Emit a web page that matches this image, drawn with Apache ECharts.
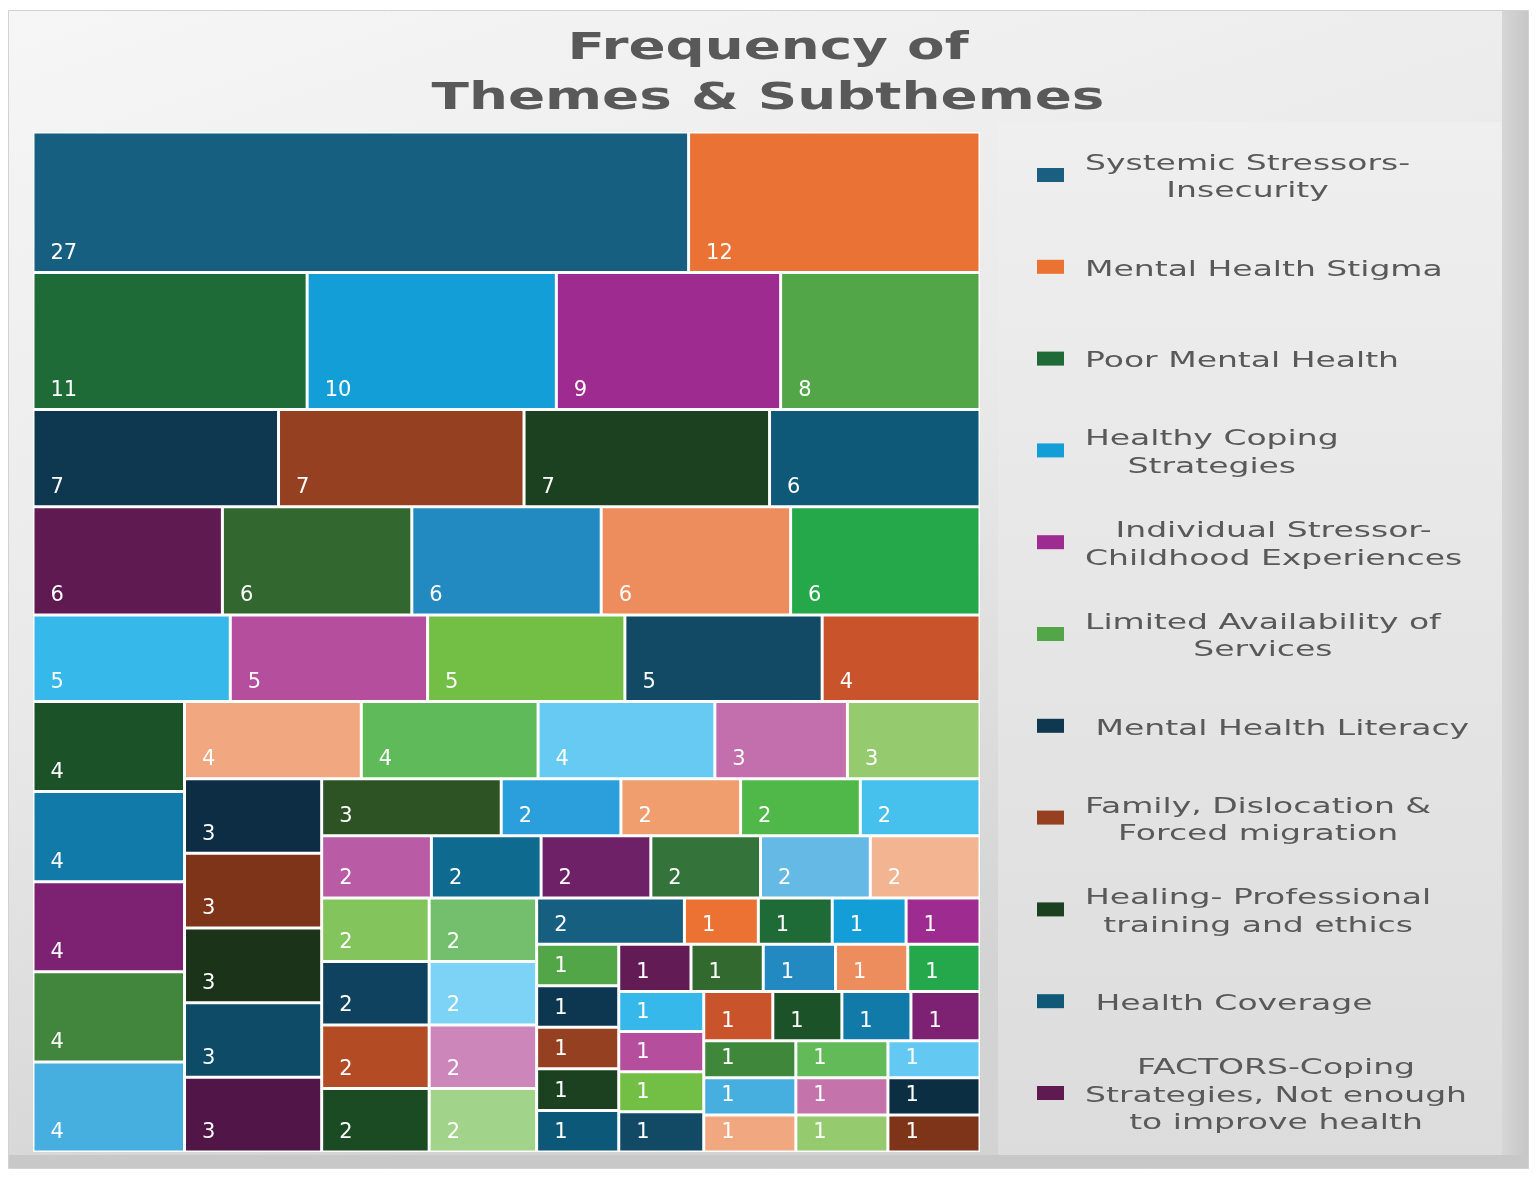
<!DOCTYPE html>
<html>
<head>
<meta charset="utf-8">
<script src="https://cdn.jsdelivr.net/npm/echarts@6/dist/echarts.min.js"></script>
<style>
html, body { margin: 0; padding: 0; background: #ffffff; }
#chart { width: 1536px; height: 1177px; }
</style>
</head>
<body>
<div id="chart"></div>
<script>
// ---------- text ----------
const chartTitle = 'Frequency of\nThemes & Subthemes';
const legendLabels = [
  'Systemic Stressors-\nInsecurity',
  'Mental Health Stigma',
  'Poor Mental Health',
  'Healthy Coping\nStrategies',
  'Individual Stressor-\nChildhood Experiences',
  'Limited Availability of\nServices',
  ' Mental Health Literacy',
  'Family, Dislocation &\nForced migration',
  'Healing- Professional\ntraining and ethics',
  ' Health Coverage',
  'FACTORS-Coping\nStrategies, Not enough\nto improve health'
];
const legendColors = ['#1a5e80', '#ea7233', '#1e6b37', '#139ed7', '#9e2b8f', '#52a647',
  '#0e3750', '#964021', '#1b4121', '#0f5878', '#5f1a52'];

// ---------- values (frequency counts) and cell colours, block by block ----------
const row1Values = [27, 12];
const row1Colors = ['#175f80', '#ea7234'];
const row2Values = [11, 10, 9, 8];
const row2Colors = ['#1e6b37', '#139ed7', '#9e2b8f', '#52a647'];
const row3Values = [7, 7, 7, 6];
const row3Colors = ['#0e3850', '#944021', '#1b4121', '#0e5878'];
const row4Values = [6, 6, 6, 6, 6];
const row4Colors = ['#5f1a52', '#32682f', '#2389c1', '#ed8d5d', '#25a84a'];
const row5Values = [5, 5, 5, 5, 4];
const row5Colors = ['#36b8eb', '#b44e9d', '#73be44', '#124a66', '#c9532a'];
const col1Values = [4, 4, 4, 4, 4];
const col1Colors = ['#1b5228', '#127aa8', '#7d2273', '#41863c', '#46afdf'];
const row6Values = [4, 4, 4, 3, 3];
const row6Colors = ['#f1a880', '#5fba59', '#67caf3', '#c46fad', '#96ca6f'];
const col2Values = [3, 3, 3, 3, 3];
const col2Colors = ['#0c2d43', '#7e3418', '#1a3319', '#0d4b66', '#511547'];
const row7Values = [3, 2, 2, 2, 2];
const row7Colors = ['#2d5224', '#2a9fdb', '#f19e6e', '#4fb848', '#46c1ee'];
const row8Values = [2, 2, 2, 2, 2, 2];
const row8Colors = ['#b95ca5', '#0f6a90', '#6e2166', '#34733a', '#64bae5', '#f3b491'];
const col3Values = [2, 2, 2, 2];
const col3Colors = ['#84c45d', '#0f425f', '#b34b25', '#1b4b22'];
const col4Values = [2, 2, 2, 2];
const col4Colors = ['#73bf6e', '#7cd3f5', '#cd86b9', '#a2d38a'];
const row9Values = [2, 1, 1, 1, 1];
const row9Colors = ['#175f80', '#eb7233', '#1e6b37', '#139ed7', '#9e2b8f'];
const col5Values = [1, 1, 1, 1, 1];
const col5Colors = ['#52a647', '#0d3750', '#954021', '#1b4121', '#0c5878'];
const row10Values = [1, 1, 1, 1, 1];
const row10Colors = ['#621b55', '#32692f', '#2389c1', '#ed8d5d', '#25a84b'];
const col6Values = [1, 1, 1, 1];
const col6Colors = ['#36b8eb', '#b44e9d', '#73be44', '#124a66'];
const row11Values = [1, 1, 1, 1];
const row11Colors = ['#c9532a', '#1b5228', '#127aa8', '#7d2273'];
const row12Values = [1, 1, 1];
const row12Colors = ['#3f873b', '#62ba59', '#63c9f3'];
const row13Values = [1, 1, 1];
const row13Colors = ['#46afdf', '#c573ab', '#0b2e42'];
const row14Values = [1, 1, 1];
const row14Colors = ['#f1a880', '#96ca6f', '#7e3418'];

// Each block is split off the remaining area (strip along the top, or band on the left),
// with a thickness proportional to its share of the remaining total; the treemap lays the cells out inside it.
const blocks = [
  { values: row1Values, colors: row1Colors, side: 'top' },
  { values: row2Values, colors: row2Colors, side: 'top' },
  { values: row3Values, colors: row3Colors, side: 'top' },
  { values: row4Values, colors: row4Colors, side: 'top' },
  { values: row5Values, colors: row5Colors, side: 'top' },
  { values: col1Values, colors: col1Colors, side: 'left' },
  { values: row6Values, colors: row6Colors, side: 'top' },
  { values: col2Values, colors: col2Colors, side: 'left' },
  { values: row7Values, colors: row7Colors, side: 'top' },
  { values: row8Values, colors: row8Colors, side: 'top' },
  { values: col3Values, colors: col3Colors, side: 'left' },
  { values: col4Values, colors: col4Colors, side: 'left' },
  { values: row9Values, colors: row9Colors, side: 'top' },
  { values: col5Values, colors: col5Colors, side: 'left' },
  { values: row10Values, colors: row10Colors, side: 'top' },
  { values: col6Values, colors: col6Colors, side: 'left', groups: [2, 2], ratio: 1.4 },
  { values: row11Values, colors: row11Colors, side: 'top' },
  { values: row12Values, colors: row12Colors, side: 'top' },
  { values: row13Values, colors: row13Colors, side: 'top' },
  { values: row14Values, colors: row14Colors, side: 'top' }
];

function sumOf(arr) { return arr.reduce(function (p, v) { return p + v; }, 0); }
function nodeName(i) {
  return i < legendLabels.length ? legendLabels[i].replace(/\n/g, ' ').trim() : 'Subtheme ' + (i + 1);
}

const plotArea = { x: 33, y: 132, w: 947, h: 1020 };
const grandTotal = blocks.reduce(function (p, b) { return p + sumOf(b.values); }, 0);

const labelStyle = {
  show: true,
  position: 'insideBottomLeft',
  distance: 0,
  padding: [0, 0, 7, 16],
  color: '#ffffff',
  fontSize: 21,
  fontFamily: 'DejaVu Sans',
  formatter: '{c}'
};

const treemapSeries = [];
(function buildSeries() {
  const rem = { x: plotArea.x, y: plotArea.y, w: plotArea.w, h: plotArea.h };
  let remSum = grandTotal;
  let leafIndex = 0;
  blocks.forEach(function (b, k) {
    const s = sumOf(b.values);
    const frac = s / remSum;
    let box;
    if (b.side === 'top') {
      box = { x: rem.x, y: rem.y, w: rem.w, h: rem.h * frac };
      rem.y += box.h; rem.h -= box.h;
    } else {
      box = { x: rem.x, y: rem.y, w: rem.w * frac, h: rem.h };
      rem.x += box.w; rem.w -= box.w;
    }
    remSum -= s;
    const leaves = b.values.map(function (v, i) {
      return {
        name: nodeName(leafIndex++),
        value: v,
        itemStyle: { color: b.colors[i], borderWidth: 1.5, borderColor: '#ffffff' }
      };
    });
    let data = leaves;
    if (b.groups) {
      data = [];
      let p = 0;
      b.groups.forEach(function (g, gi) {
        data.push({ name: 'group ' + k + '-' + gi, children: leaves.slice(p, p + g) });
        p += g;
      });
    }
    treemapSeries.push({
      type: 'treemap',
      name: 'block ' + k,
      left: box.x, top: box.y, width: box.w, height: box.h,
      squareRatio: b.ratio || 0.3,
      sort: false,
      roam: false,
      nodeClick: false,
      breadcrumb: { show: false },
      itemStyle: { borderWidth: 0, gapWidth: 0, borderColor: '#ffffff' },
      upperLabel: { show: false },
      label: labelStyle,
      emphasis: { disabled: true },
      silent: true,
      data: data
    });
  });
})();

// ---------- legend (graphic) ----------
const measureCtx = document.createElement('canvas').getContext('2d');
const legendFont = '22px "DejaVu Sans"';
measureCtx.font = legendFont;
const legendScale = 1.5;
const legendGraphics = [];
legendLabels.forEach(function (label, i) {
  const cy = 175 + 91.8 * i;
  const maxW = Math.max.apply(null, label.split('\n').map(function (l) { return measureCtx.measureText(l).width; }));
  legendGraphics.push({
    type: 'rect', silent: true,
    shape: { x: 1037, y: cy - 7, width: 27, height: 14 },
    style: { fill: legendColors[i] }
  });
  legendGraphics.push({
    type: 'text', silent: true,
    x: 1085 + maxW * legendScale / 2, y: cy + 3,
    scaleX: legendScale, scaleY: 1,
    style: {
      text: label, x: 0, y: 0,
      font: legendFont, fill: '#595959',
      align: 'center', verticalAlign: 'middle',
      textAlign: 'center', textVerticalAlign: 'middle',
      lineHeight: 27.5
    }
  });
});

const chart = echarts.init(document.getElementById('chart'));
chart.setOption({
  backgroundColor: '#ffffff',
  animation: false,
  graphic: [
    {
      type: 'rect', silent: true, z: -10,
      shape: { x: 8.5, y: 10.5, width: 1520, height: 1158 },
      style: {
        fill: { type: 'linear', x: 0, y: 0, x2: 0.25, y2: 1,
          colorStops: [{ offset: 0, color: '#f6f6f6' }, { offset: 0.55, color: '#e9e9e9' }, { offset: 1, color: '#d3d3d3' }] },
        stroke: '#d2d2d2', lineWidth: 1
      }
    },
    {
      type: 'rect', silent: true, z: -9,
      shape: { x: 998, y: 122, width: 504, height: 1034 },
      style: {
        fill: { type: 'linear', x: 0, y: 0, x2: 0, y2: 1,
          colorStops: [{ offset: 0, color: '#efefef' }, { offset: 1, color: '#dcdcdc' }] }
      }
    },
    {
      type: 'rect', silent: true, z: -9,
      shape: { x: 1502, y: 11, width: 26, height: 1157 },
      style: {
        fill: { type: 'linear', x: 0, y: 0, x2: 1, y2: 0,
          colorStops: [{ offset: 0, color: '#d6d6d6' }, { offset: 1, color: '#c6c6c6' }] }
      }
    },
    {
      type: 'rect', silent: true, z: -8,
      shape: { x: 9, y: 1155, width: 1519, height: 13 },
      style: { fill: '#c8c8c8' }
    },
    {
      type: 'text', silent: true,
      x: 768, y: 24, scaleX: 1.48, scaleY: 1,
      style: {
        text: chartTitle, x: 0, y: 0,
        font: 'bold 37px "DejaVu Sans"', fill: '#595959',
        align: 'center', verticalAlign: 'top',
        textAlign: 'center', textVerticalAlign: 'top',
        lineHeight: 50
      }
    }
  ].concat(legendGraphics),
  series: treemapSeries
});
</script>
</body>
</html>
